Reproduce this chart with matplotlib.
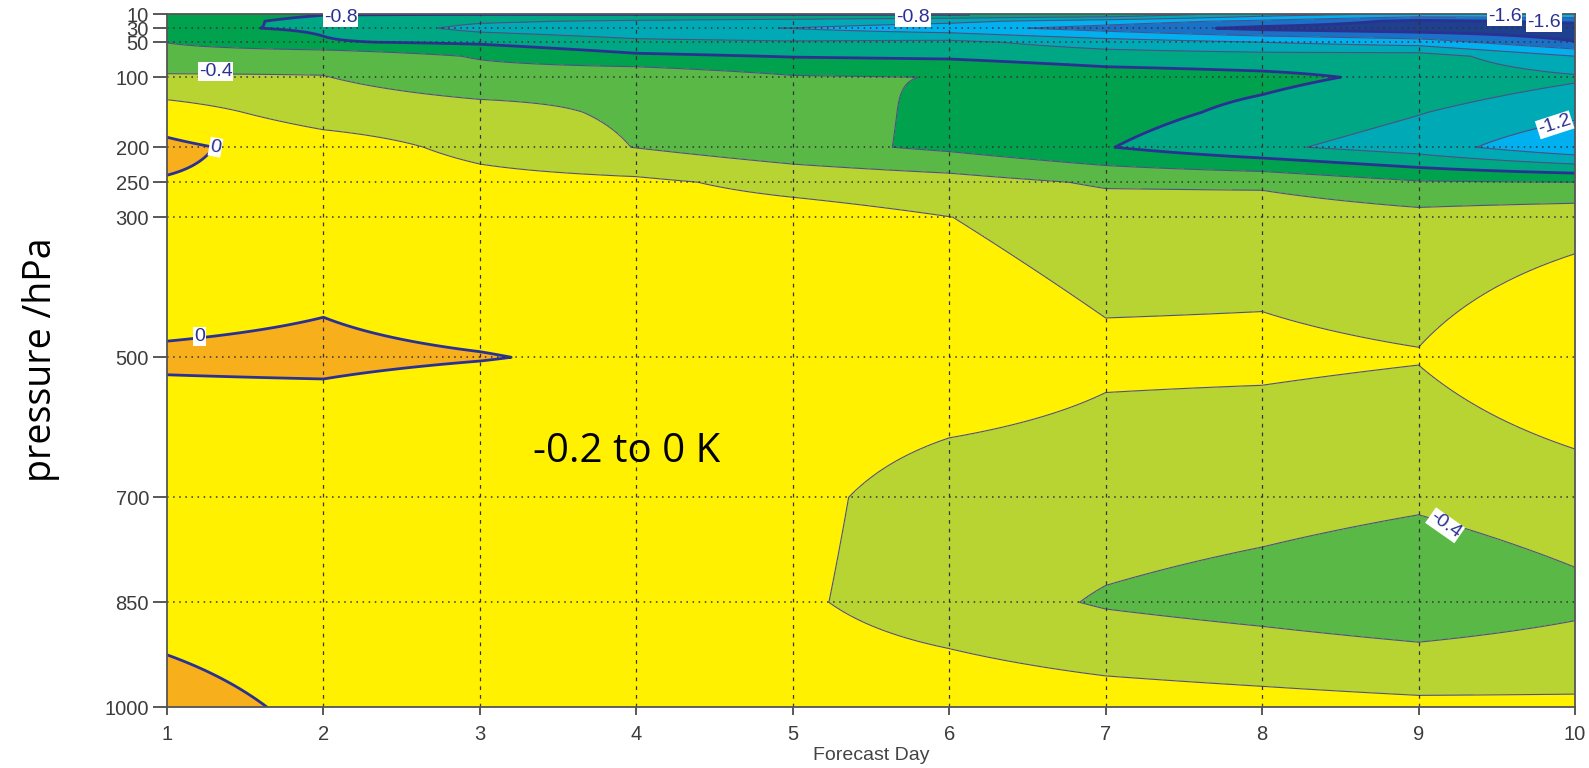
import numpy as np
import matplotlib
matplotlib.use("Agg")
import matplotlib.pyplot as plt

# ---- data: temperature difference (K) by forecast day and pressure level ----
days = np.arange(1, 11)
pressure = np.array([10, 20, 30, 50, 70, 100, 150, 200, 250, 300, 500, 700, 850, 1000])

t_10 = [-0.68, -0.79, -0.795, -0.795, -0.795, -0.797, -0.82, -1.10, -1.25, -1.25]
t_20 = [-0.70, -0.86, -0.97, -1.03, -1.08, -1.15, -1.30, -1.45, -1.65, -1.55]
t_30 = [-0.77, -0.82, -1.065, -1.15, -1.205, -1.32, -1.48, -1.65, -1.72, -1.75]
t_50 = [-0.605, -0.785, -0.83, -0.95, -0.98, -0.95, -1.10, -1.20, -1.30, -1.59]
t_70 = [-0.50, -0.449, -0.62, -0.76, -0.81, -0.83, -0.90, -0.92, -0.90, -1.20]
t_100 = [-0.38, -0.395, -0.50, -0.44, -0.58, -0.605, -0.70, -0.75, -0.85, -0.97]
t_150 = [-0.10, -0.307, -0.342, -0.43, -0.52, -0.64, -0.72, -0.85, -0.99, -1.15]
t_200 = [0.04, -0.093, -0.26, -0.405, -0.53, -0.64, -0.79, -0.96, -1.10, -1.37]
t_250 = [-0.01, -0.05, -0.135, -0.161, -0.26, -0.316, -0.426, -0.44, -0.58, -0.60]
t_300 = [-0.10, -0.05, -0.12, -0.10, -0.12, -0.198, -0.282, -0.266, -0.33, -0.267]
t_500 = [0.013, 0.02, 0.005, -0.02, -0.08, -0.078, -0.168, -0.168, -0.19, -0.01]
t_700 = [-0.091, -0.109, -0.18, -0.12, -0.15, -0.29, -0.295, -0.328, -0.37, -0.30]
t_850 = [-0.05, -0.08, -0.10, -0.12, -0.17, -0.30, -0.42, -0.48, -0.55, -0.45]
t_1000 = [0.05, -0.028, -0.05, -0.07, -0.08, -0.073, -0.106, -0.13, -0.155, -0.164]

y_ticks = [10, 30, 50, 100, 200, 250, 300, 500, 700, 850, 1000]
contour_bounds = [-2.0, -1.6, -1.4, -1.2, -1.0, -0.8, -0.6, -0.4, -0.2, 0.0, 0.2]
fill_colors = ["#1f3f8f", "#1a72c8", "#00b0ef", "#00a9b6", "#00a784",
               "#00a24d", "#5ab846", "#b8d432", "#fff100", "#f8af1c"]

field = np.vstack([t_10, t_20, t_30, t_50, t_70, t_100, t_150, t_200,
                   t_250, t_300, t_500, t_700, t_850, t_1000])

# bilinear refinement onto a fine grid
xf = np.linspace(1, 10, 541)
pf = np.linspace(10, 1000, 991)
zp = np.array([np.interp(pf, pressure, field[:, j]) for j in range(len(days))]).T
zf = np.array([np.interp(xf, days, row) for row in zp])

plt.rcParams["font.family"] = ["Liberation Sans", "DejaVu Sans"]
plt.rcParams["contour.negative_linestyle"] = "solid"

fig = plt.figure(figsize=(15.89, 7.68), dpi=100)
ax = fig.add_axes([0.1051, 0.0790, 0.8861, 0.9025])

ax.contourf(xf, pf, zf, levels=contour_bounds, colors=fill_colors)
thin_levels = [-1.4, -1.2, -1.0, -0.6, -0.4, -0.2]
thick_levels = [-1.6, -0.8, 0.0]
ax.contour(xf, pf, zf, levels=thin_levels, colors="#4d5088", linewidths=0.8,
           linestyles="solid")
ax.contour(xf, pf, zf, levels=thick_levels, colors="#2b3192", linewidths=2.0,
           linestyles="solid")

ax.set_xlim(1, 10)
ax.set_ylim(1000, 10)
ax.set_xticks(days)
ax.set_yticks(y_ticks)
ax.set_yticklabels([str(v) for v in y_ticks])

# grid: dotted horizontals, dashed verticals
for v in y_ticks[1:-1]:
    ax.axhline(v, color="#333333", lw=1.1, ls=(0, (1, 3)), zorder=3)
for d in days[1:-1]:
    ax.axvline(d, color="#333333", lw=0.9, ls=(0, (3, 4)), zorder=3)

ax.tick_params(axis="y", direction="out", length=10, width=1.2, pad=3,
               labelsize=14.5, colors="#3c3c3c")
ax.tick_params(axis="x", direction="out", length=6, width=1.2, pad=7,
               labelsize=14.5, colors="#3c3c3c")
for s in ax.spines.values():
    s.set_color("#555555")
    s.set_linewidth(1.3)
    s.set_zorder(4)

ax.set_xlabel("Forecast Day", fontsize=14, color="#444444", labelpad=2)

fig.text(0.026, 0.531, "pressure /hPa", rotation=90, ha="center", va="center",
         fontsize=27, family=["Open Sans", "DejaVu Sans"], color="black")

ax.text(3.94, 635, "-0.2 to 0 K", ha="center", va="center", fontsize=29,
        family=["Open Sans", "DejaVu Sans"], color="black", zorder=6)

# contour value labels
label_box = dict(boxstyle="square,pad=0.05", fc="white", ec="none")
labels = [
    (2.11, 15, "-0.8", 0),
    (1.31, 92, "-0.4", 0),
    (1.31, 200, "0", -10),
    (1.21, 470, "0", 0),
    (5.77, 15, "-0.8", 0),
    (9.55, 13, "-1.6", 0),
    (9.80, 22, "-1.6", 0),
    (9.87, 168, "-1.2", 18),
    (9.17, 740, "-0.4", -35),
]
for x, y, s, rot in labels:
    ax.text(x, y, s, ha="center", va="center", fontsize=14, color="#2b3192",
            rotation=rot, bbox=label_box, zorder=7, clip_on=False)

fig.savefig("out.png", dpi=100)
